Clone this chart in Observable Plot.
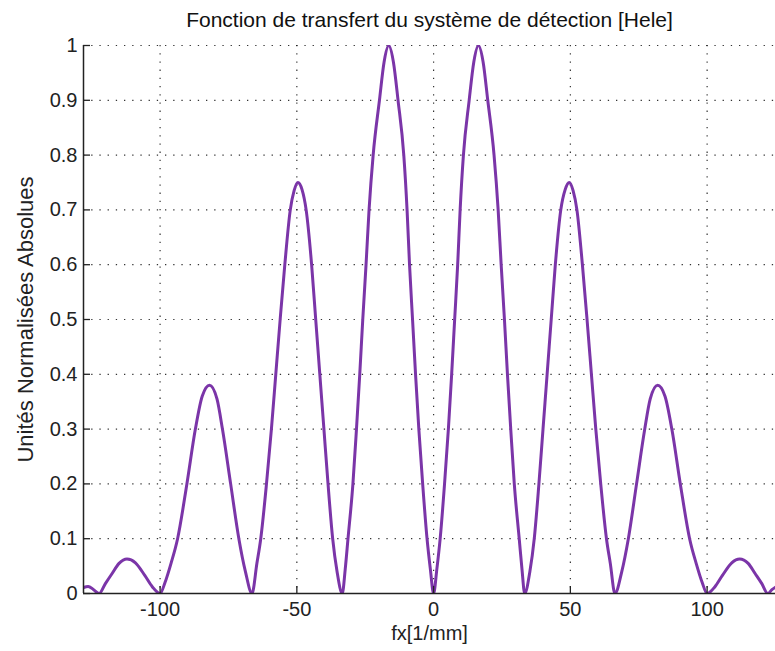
<!DOCTYPE html>
<html><head><meta charset="utf-8">
<script src="https://cdn.jsdelivr.net/npm/d3@7"></script>
<script src="https://cdn.jsdelivr.net/npm/@observablehq/plot@0.6"></script>
<style>html,body{margin:0;padding:0;background:#fff;}</style>
</head><body><div id="chart"></div>
<script>
const fx = [
  -128, -126.3, -124.3, -122.3, -120, -117.6, -115, -112.1, -109, -105.6, -102.8, -100,
  -98.2, -96.0, -93.6, -90.2, -87.1, -84.6, -81.9, -79.2, -77.2, -74.2, -71.2, -68.8, -66.4,
  -64.6, -63.2, -61.1, -59.3, -57.7, -56.1, -54.4, -52.4, -51.0, -49.6, -48.1, -46.6, -44.6, -43.1, -41.6, -40.1, -38.6, -36.9, -35.3, -33.4,
  -32.3, -31.3, -29.5, -28.2, -27.0, -25.9, -24.7, -23.6, -22.1, -19.8, -18.1, -16.4, -14.7, -13.0, -10.9, -9.7, -8.8, -7.7, -6.6, -5.4, -4.0, -2.4, -1.2, 0,
  1.2, 2.4, 4.0, 5.4, 6.6, 7.7, 8.8, 9.7, 10.9, 13.0, 14.7, 16.4, 18.1, 19.8, 22.1, 23.6, 24.7, 25.9, 27.0, 28.2, 29.5, 31.3, 32.3, 33.3,
  35.2, 36.8, 38.5, 40.0, 41.5, 43.0, 44.5, 46.5, 48.1, 49.6, 51.0, 52.4, 54.4, 56.1, 57.7, 59.3, 61.1, 63.2, 64.6, 66.3,
  68.8, 71.2, 74.2, 77.2, 79.2, 81.9, 84.6, 87.1, 90.2, 93.6, 96.0, 98.2, 100,
  102.8, 105.6, 109, 111.9, 115, 117.6, 120, 122.2, 123.7, 125
];
const amp = [
  0.011, 0.013, 0.007, 0, 0.018, 0.036, 0.055, 0.063, 0.056, 0.033, 0.012, 0,
  0.02, 0.055, 0.1, 0.2, 0.3, 0.36, 0.38, 0.355, 0.3, 0.2, 0.1, 0.04, 0,
  0.055, 0.1, 0.2, 0.3, 0.4, 0.5, 0.6, 0.7, 0.735, 0.75, 0.737, 0.7, 0.6, 0.5, 0.4, 0.3, 0.2, 0.1, 0.04, 0,
  0.045, 0.1, 0.2, 0.3, 0.4, 0.5, 0.6, 0.7, 0.8, 0.9, 0.97, 1.0, 0.97, 0.9, 0.8, 0.7, 0.6, 0.5, 0.4, 0.3, 0.2, 0.1, 0.045, 0,
  0.045, 0.1, 0.2, 0.3, 0.4, 0.5, 0.6, 0.7, 0.8, 0.9, 0.97, 1.0, 0.97, 0.9, 0.8, 0.7, 0.6, 0.5, 0.4, 0.3, 0.2, 0.1, 0.045, 0,
  0.04, 0.1, 0.2, 0.3, 0.4, 0.5, 0.6, 0.7, 0.737, 0.75, 0.735, 0.7, 0.6, 0.5, 0.4, 0.3, 0.2, 0.1, 0.055, 0,
  0.04, 0.1, 0.2, 0.3, 0.355, 0.38, 0.36, 0.3, 0.2, 0.1, 0.055, 0.02, 0,
  0.012, 0.033, 0.056, 0.063, 0.055, 0.036, 0.018, 0, 0.007, 0.0115
];
const xTicks = [-100, -50, 0, 50, 100];
const xTickLabels = ["-100", "-50", "0", "50", "100"];
const yTicks = [0, 0.1, 0.2, 0.3, 0.4, 0.5, 0.6, 0.7, 0.8, 0.9, 1];
const yTickLabels = ["0", "0.1", "0.2", "0.3", "0.4", "0.5", "0.6", "0.7", "0.8", "0.9", "1"];
const xDomain = [-128, 125];
const yDomain = [0, 1];
const title = "Fonction de transfert du système de détection [Hele]";
const xLabel = "fx[1/mm]";
const yLabel = "Unités Normalisées Absolues";

const data = fx.map((x, i) => ({x, y: amp[i]}));
const gridStyle = {stroke: "#000", strokeOpacity: 0.8, strokeWidth: 1.2, strokeDasharray: "1.3,6.9"};

const chart = Plot.plot({
  width: 775, height: 651,
  marginLeft: 83, marginRight: 0, marginTop: 45, marginBottom: 58,
  style: {fontFamily: "'Liberation Sans', Arial, sans-serif", fontSize: "20px", color: "#222", background: "#fff", overflow: "visible"},
  x: {domain: xDomain, ticks: xTicks, label: null},
  y: {domain: yDomain, ticks: yTicks, label: null},
  marks: [
    Plot.gridX(xTicks, gridStyle),
    Plot.gridY(yTicks, gridStyle),
    Plot.line(data, {x: "x", y: "y", curve: "monotone-x", stroke: "#7b35a8", strokeWidth: 3, clip: true}),
    Plot.ruleX([xDomain[0]], {stroke: "#222", strokeWidth: 1.5}),
    Plot.ruleY([yDomain[0]], {stroke: "#222", strokeWidth: 1.5}),
    Plot.axisX(xTicks, {tickSize: -7, tickFormat: () => "", stroke: "#222", strokeWidth: 1.3}),
    Plot.axisX(xTicks, {tickSize: 0, tickPadding: 8, fill: "#222", tickFormat: d => xTickLabels[xTicks.indexOf(d)]}),
    Plot.axisY(yTicks, {tickSize: -7, tickFormat: () => "", stroke: "#222", strokeWidth: 1.3}),
    Plot.axisY(yTicks, {tickSize: 0, tickPadding: 6, fill: "#222", tickFormat: d => yTickLabels[yTicks.indexOf(d)]}),
    Plot.text([title], {text: d => d, frameAnchor: "top", dy: -25, fontSize: 21, textAnchor: "middle", lineAnchor: "middle", fill: "#111"}),
    Plot.text([xLabel], {text: d => d, frameAnchor: "bottom", dy: 40, fontSize: 20, textAnchor: "middle", lineAnchor: "middle", fill: "#222"}),
    Plot.text([yLabel], {text: d => d, frameAnchor: "left", dx: -58, rotate: -90, fontSize: 22, textAnchor: "middle", lineAnchor: "middle", fill: "#222"})
  ]
});
document.getElementById("chart").appendChild(chart);
</script>
</body></html>
